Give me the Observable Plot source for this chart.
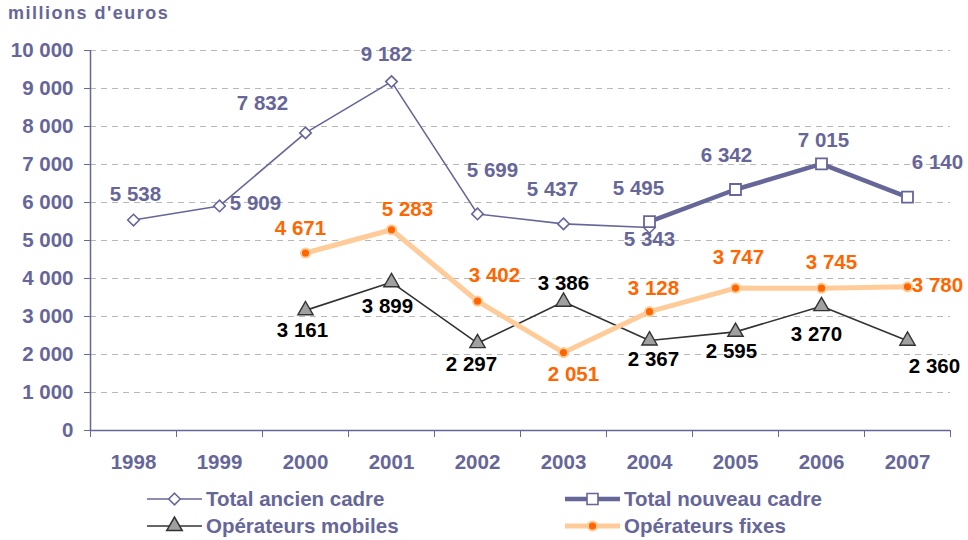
<!DOCTYPE html>
<html>
<head>
<meta charset="utf-8">
<script src="https://cdn.jsdelivr.net/npm/d3@7"></script>
<script src="https://cdn.jsdelivr.net/npm/@observablehq/plot@0.6"></script>
<style>
  html, body { margin: 0; padding: 0; background: white; }
  #wrap { position: relative; width: 968px; height: 540px; overflow: hidden; background: white; font-family: 'Liberation Sans', Arial, sans-serif; }
  #ytitle { position: absolute; left: 8px; top: 3px; font-size: 18px; font-weight: bold; letter-spacing: 1.5px; color: #666699; z-index: 2; }
  #chart { position: absolute; left: 0; top: 0; }
  #legend { position: absolute; left: 0; top: 480px; }
</style>
</head>
<body>
<div id="wrap">
  <div id="chart"></div>
  <div id="ytitle">millions d'euros</div>
  <div id="legend"></div>
</div>
<script>
// ---- data ----
const years = [1998, 1999, 2000, 2001, 2002, 2003, 2004, 2005, 2006, 2007];
const ancienYears = [1998, 1999, 2000, 2001, 2002, 2003, 2004];
const ancienValues = [5538, 5909, 7832, 9182, 5699, 5437, 5343];
const nouveauYears = [2004, 2005, 2006, 2007];
const nouveauValues = [5495, 6342, 7015, 6140];
const operateurYears = [2000, 2001, 2002, 2003, 2004, 2005, 2006, 2007];
const mobilesValues = [3161, 3899, 2297, 3386, 2367, 2595, 3270, 2360];
const fixesValues = [4671, 5283, 3402, 2051, 3128, 3747, 3745, 3780];
const yTicks = [0, 1000, 2000, 3000, 4000, 5000, 6000, 7000, 8000, 9000, 10000];
const seriesNames = ["Total ancien cadre", "Total nouveau cadre", "Opérateurs mobiles", "Opérateurs fixes"];

// label offsets (pixels) relative to each point
const ancienLabelOffsets = [[2,-26],[36,-3],[-43,-29],[-5,-27],[15,-44],[-11,-34],[0,12]];
const nouveauLabelOffsets = [[-11,-33],[-9,-34],[2,-23],[30,-35]];
const mobilesLabelOffsets = [[-3,20],[-4,24],[-6,21],[0,-18],[4,19],[-4,20],[-5,28],[27,26]];
const fixesLabelOffsets = [[-5,-25],[16,-20],[17,-26],[10,22],[4,-23],[3,-31],[10,-26],[30,-1]];

const PURPLE = "#666699", ORANGE = "#FF6600", PEACH = "#FFCC99", DARK = "#333333";

const fmt = d => d3.format(",")(d).replace(/,/g, " ");
const zip = (xs, vs) => xs.map((x, i) => ({x, y: vs[i]}));
const ancien = zip(ancienYears, ancienValues);
const nouveau = zip(nouveauYears, nouveauValues);
const mobiles = zip(operateurYears, mobilesValues);
const fixes = zip(operateurYears, fixesValues);
const boundaries = [years[0] - 0.5, ...years.map(y => y + 0.5)];
const gridTicks = yTicks.filter(v => v > 0);

function labels(data, offsets, color) {
  return data.map((d, i) => Plot.text([d], {
    x: "x", y: "y", text: d => fmt(d.y),
    dx: offsets[i][0], dy: offsets[i][1],
    fill: color, fontSize: 20.5, fontWeight: "bold", textAnchor: "middle"
  }));
}

const chart = Plot.plot({
  width: 968, height: 480,
  marginLeft: 90, marginRight: 18, marginTop: 50, marginBottom: 50,
  x: {domain: [years[0] - 0.5, years[years.length - 1] + 0.5]},
  y: {domain: [0, 10000]},
  style: {fontFamily: "'Liberation Sans', Arial, sans-serif", fontSize: "20.5px", fontWeight: "bold", color: PURPLE, background: "white", overflow: "visible"},
  marks: [
    Plot.ruleY(gridTicks, {stroke: "#B8B8B8", strokeDasharray: "6,5", strokeWidth: 1}),
    Plot.axisY(yTicks, {tickSize: 6, tickPadding: 11, tickFormat: fmt, label: null, stroke: PURPLE, fill: PURPLE}),
    Plot.axisX(boundaries, {tickSize: 7, tickFormat: () => "", label: null, stroke: PURPLE}),
    Plot.axisX(years, {tickSize: 0, tickPadding: 24, tickFormat: d => String(d), label: null, fill: PURPLE}),
    Plot.ruleY([0], {stroke: PURPLE, strokeWidth: 1.5}),
    Plot.ruleX([boundaries[0]], {y1: 0, y2: 10000, stroke: PURPLE, strokeWidth: 1.5}),
    // Total ancien cadre
    Plot.line(ancien, {x: "x", y: "y", stroke: PURPLE, strokeWidth: 1.6}),
    Plot.dot(ancien, {x: "x", y: "y", symbol: "diamond2", r: 5.2, fill: "white", stroke: PURPLE, strokeWidth: 1.6}),
    // Total nouveau cadre
    Plot.line(nouveau, {x: "x", y: "y", stroke: PURPLE, strokeWidth: 4.5}),
    Plot.dot(nouveau, {x: "x", y: "y", symbol: "square", r: 6.2, fill: "white", stroke: PURPLE, strokeWidth: 1.8}),
    // Opérateurs mobiles
    Plot.line(mobiles, {x: "x", y: "y", stroke: DARK, strokeWidth: 1.6}),
    Plot.dot(mobiles, {x: "x", y: "y", symbol: "triangle", r: 5.7, fill: "#A0A0A0", stroke: DARK, strokeWidth: 1.4}),
    // Opérateurs fixes
    Plot.line(fixes, {x: "x", y: "y", stroke: PEACH, strokeWidth: 5}),
    Plot.dot(fixes, {x: "x", y: "y", r: 4.6, fill: ORANGE, stroke: PEACH, strokeWidth: 2}),
    ...labels(ancien, ancienLabelOffsets, PURPLE),
    ...labels(nouveau, nouveauLabelOffsets, PURPLE),
    ...labels(mobiles, mobilesLabelOffsets, "#000000"),
    ...labels(fixes, fixesLabelOffsets, ORANGE)
  ]
});
document.getElementById("chart").appendChild(chart);

// ---- legend ----
const legendItems = [
  {name: seriesNames[0], col: 0, row: 0, stroke: PURPLE, width: 1.6, symbol: d3.symbolDiamond2, size: Math.PI * 5.2 * 5.2, fill: "white", mstroke: PURPLE},
  {name: seriesNames[1], col: 1, row: 0, stroke: PURPLE, width: 4.5, symbol: d3.symbolSquare, size: Math.PI * 6.2 * 6.2, fill: "white", mstroke: PURPLE},
  {name: seriesNames[2], col: 0, row: 1, stroke: DARK, width: 1.6, symbol: d3.symbolTriangle, size: Math.PI * 5.7 * 5.7, fill: "#A0A0A0", mstroke: DARK},
  {name: seriesNames[3], col: 1, row: 1, stroke: PEACH, width: 5, symbol: d3.symbolCircle, size: Math.PI * 4.6 * 4.6, fill: ORANGE, mstroke: PEACH}
];
const colX = [147, 565];
const rowY = [19, 46];
const lsvg = d3.select("#legend").append("svg").attr("width", 968).attr("height", 60)
  .style("font-family", "'Liberation Sans', Arial, sans-serif");
legendItems.forEach(it => {
  const x0 = colX[it.col], cy = rowY[it.row];
  const g = lsvg.append("g");
  g.append("line").attr("x1", x0).attr("x2", x0 + 55).attr("y1", cy).attr("y2", cy)
    .attr("stroke", it.stroke).attr("stroke-width", it.width);
  g.append("path").attr("d", d3.symbol(it.symbol, it.size)())
    .attr("transform", `translate(${x0 + 27.5},${cy})`)
    .attr("fill", it.fill).attr("stroke", it.mstroke).attr("stroke-width", it.symbol === d3.symbolCircle ? 2 : 1.6);
  g.append("text").attr("x", x0 + 59).attr("y", cy).attr("dy", "0.35em")
    .attr("fill", PURPLE).attr("font-size", 20.5).attr("font-weight", "bold").text(it.name);
});
</script>
</body>
</html>
